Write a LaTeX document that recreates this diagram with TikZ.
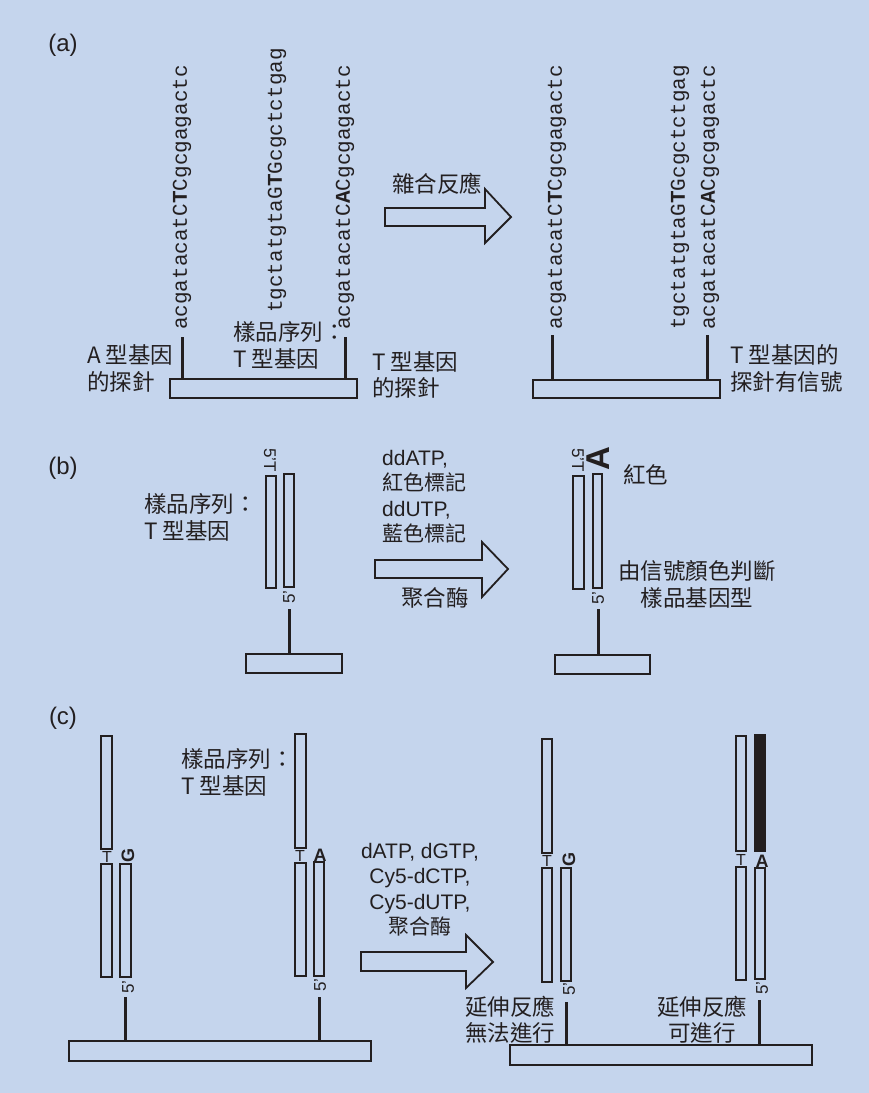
\documentclass[tikz,border=0pt]{standalone}
\usepackage{fontspec}
\setmainfont{Liberation Sans}
\newfontfamily\cjk{Noto Sans CJK TC}
\newfontfamily\seqf{Liberation Mono}
\definecolor{bg}{HTML}{C5D5ED}
\definecolor{ink}{HTML}{231F20}
\begin{document}
\begin{tikzpicture}[x=1pt,y=-1pt,
  supp/.style={draw=ink, line width=1.6pt, inner sep=0pt, outer sep=0pt},
  probe/.style={draw=ink, line width=3pt},
  strand/.style={draw=ink, line width=1.6pt},
  blockarrow/.style={draw=ink, line width=1.8pt, line join=miter},
  seq/.style={font=\seqf\fontsize{21}{21}\selectfont, rotate=90, anchor=west, inner sep=0pt, text=ink},
  lab/.style={font=\cjk\fontsize{22.5}{26.5}\selectfont, text=ink, inner sep=0pt},
  lat/.style={font=\fontsize{21}{25.5}\selectfont, text=ink, inner sep=0pt},
  part/.style={font=\fontsize{24}{24}\selectfont, text=ink, inner sep=0pt},
  endlab/.style={font=\fontsize{17}{17}\selectfont, text=ink, inner sep=0pt},
  base/.style={font=\bfseries\fontsize{18}{18}\selectfont, text=ink, inner sep=0pt},
  tmark/.style={font=\fontsize{16}{16}\selectfont, text=ink, inner sep=0pt}]
\fill[bg] (0,0) rectangle (869,1093);
\useasboundingbox (0,0) rectangle (869,1093);

% ---------------- (a) ----------------
\node[part] (la) at (63,45) {(a)};
\node[seq] (s1) at (182,330) {acgatacatC{\bfseries T}Cgcgagactc};
\node[seq] (s2) at (277,313) {tgctatgtaG{\bfseries T}Gcgctctgag};
\node[seq] (s3) at (345,330) {acgatacatC{\bfseries A}Cgcgagactc};
\node[supp, minimum width=187pt, minimum height=19pt] (bA) at (263.5,388.5) {};
\coordinate (p1) at (182,337);
\coordinate (p3) at (345,337);
\draw[probe] (p1) -- (p1 |- bA.north);
\draw[probe] (p3) -- (p3 |- bA.north);
\node[lab, align=left, anchor=west] (tA) at (87,368.5) {A 型基因\\的探針};
\node[lab, align=left, anchor=west] (tT) at (372,375) {T 型基因\\的探針};
\node[lab, align=left, anchor=west] (smA) at (233,345.5) {樣品序列：\\T 型基因};
\draw[blockarrow] (385,208) -- (485,208) -- (485,189) -- (511,217) -- (485,243) -- (485,226) -- (385,226) -- cycle;
\node[lab] (hy) at (437,184) {雜合反應};
\node[seq] (r1) at (557,330) {acgatacatC{\bfseries T}Cgcgagactc};
\node[seq] (r2) at (680,330) {tgctatgtaG{\bfseries T}Gcgctctgag};
\node[seq] (r3) at (710,330) {acgatacatC{\bfseries A}Cgcgagactc};
\node[supp, minimum width=187pt, minimum height=18pt] (bA2) at (626.5,389) {};
\coordinate (q1) at (552,335);
\coordinate (q3) at (707,335);
\draw[probe] (q1) -- (q1 |- bA2.north);
\draw[probe] (q3) -- (q3 |- bA2.north);
\node[lab, align=left, anchor=west] (sig) at (730,368.5) {T 型基因的\\探針有信號};

% ---------------- (b) ----------------
\node[part] (lb) at (63,468) {(b)};
\draw[strand] (266,476) rectangle (276,588);
\draw[strand] (284,474) rectangle (294,587);
\node[endlab, rotate=-90] (b5t) at (270,460) {5'T};
\node[endlab, rotate=90] (b5) at (289,597) {5'};
\node[supp, minimum width=96pt, minimum height=19pt] (bB) at (294,663.5) {};
\coordinate (pb) at (289,609);
\draw[probe] (pb) -- (pb |- bB.north);
\node[lab, align=left, anchor=west] (smB) at (144,517.5) {樣品序列：\\T 型基因};
\draw[blockarrow] (375,560) -- (482,560) -- (482,542) -- (508,569) -- (482,597) -- (482,578) -- (375,578) -- cycle;
\node[lat, align=left, anchor=west] (ddn) at (382,496.5) {ddATP,\\{\cjk 紅色標記}\\ddUTP,\\{\cjk 藍色標記}};
\node[lab] (polB) at (435,598) {聚合酶};
\draw[strand] (573,476) rectangle (584,589);
\draw[strand] (593,474) rectangle (602,588);
\node[endlab, rotate=-90] (b5t2) at (578,460) {5'T};
\node[font=\bfseries\fontsize{33}{33}\selectfont, text=ink, inner sep=0pt, rotate=90] (bA3) at (598,459) {A};
\node[lab, anchor=west] (red) at (623,475) {紅色};
\node[lab, align=center] (judge) at (697,584.5) {由信號顏色判斷\\樣品基因型};
\node[endlab, rotate=90] (b52) at (598,598) {5'};
\node[supp, minimum width=95pt, minimum height=19pt] (bB2) at (602.5,664.5) {};
\coordinate (pb2) at (598,609);
\draw[probe] (pb2) -- (pb2 |- bB2.north);

% ---------------- (c) ----------------
\node[part] (lc) at (63,718) {(c)};
% structure 1
\draw[strand] (101,736) rectangle (112,849);
\draw[strand] (101,864) rectangle (112,977);
\draw[strand] (120,864) rectangle (131,977);
\node[tmark] (t1) at (107,857) {T};
\node[base, rotate=90] (g1) at (128,855) {G};
\node[endlab, rotate=90] (c51) at (128,987) {5'};
% structure 2
\draw[strand] (295,734) rectangle (306,848);
\draw[strand] (295,863) rectangle (306,976);
\draw[strand] (314,862) rectangle (324,976);
\node[tmark] (t2) at (300,856) {T};
\node[base] (a2) at (320,855) {A};
\node[endlab, rotate=90] (c52) at (320,985) {5'};
\node[supp, minimum width=302pt, minimum height=20pt] (bC) at (220,1051) {};
\coordinate (pc1) at (125,997);
\coordinate (pc2) at (319,997);
\draw[probe] (pc1) -- (pc1 |- bC.north);
\draw[probe] (pc2) -- (pc2 |- bC.north);
\node[lab, align=left, anchor=west] (smC) at (181,772.5) {樣品序列：\\T 型基因};
\draw[blockarrow] (361,952) -- (466,952) -- (466,935) -- (493,962) -- (466,988) -- (466,971) -- (361,971) -- cycle;
\node[lat, align=center] (dnt) at (420,889.5) {dATP, dGTP,\\Cy5-dCTP,\\Cy5-dUTP,\\{\cjk 聚合酶}};
% structure 3
\draw[strand] (542,739) rectangle (552,853);
\draw[strand] (542,868) rectangle (552,982);
\draw[strand] (561,868) rectangle (571,981);
\node[tmark] (t3) at (547,861) {T};
\node[base, rotate=90] (g3) at (569,859) {G};
\node[endlab, rotate=90] (c53) at (569,989) {5'};
% structure 4
\draw[strand] (736,736) rectangle (746,851);
\filldraw[strand, fill=ink] (755,735) rectangle (765,851);
\draw[strand] (736,867) rectangle (746,980);
\draw[strand] (755,868) rectangle (765,979);
\node[tmark] (t4) at (741,860) {T};
\node[base] (a4) at (762,861) {A};
\node[endlab, rotate=90] (c54) at (762,988) {5'};
\node[supp, minimum width=302pt, minimum height=20pt] (bC2) at (661,1055) {};
\coordinate (pc3) at (566,1002);
\coordinate (pc4) at (759,1000);
\draw[probe] (pc3) -- (pc3 |- bC2.north);
\draw[probe] (pc4) -- (pc4 |- bC2.north);
\node[lab, align=center] (no) at (510,1019.5) {延伸反應\\無法進行};
\node[lab, align=center] (yes) at (702,1019.5) {延伸反應\\可進行};
\end{tikzpicture}
\end{document}
